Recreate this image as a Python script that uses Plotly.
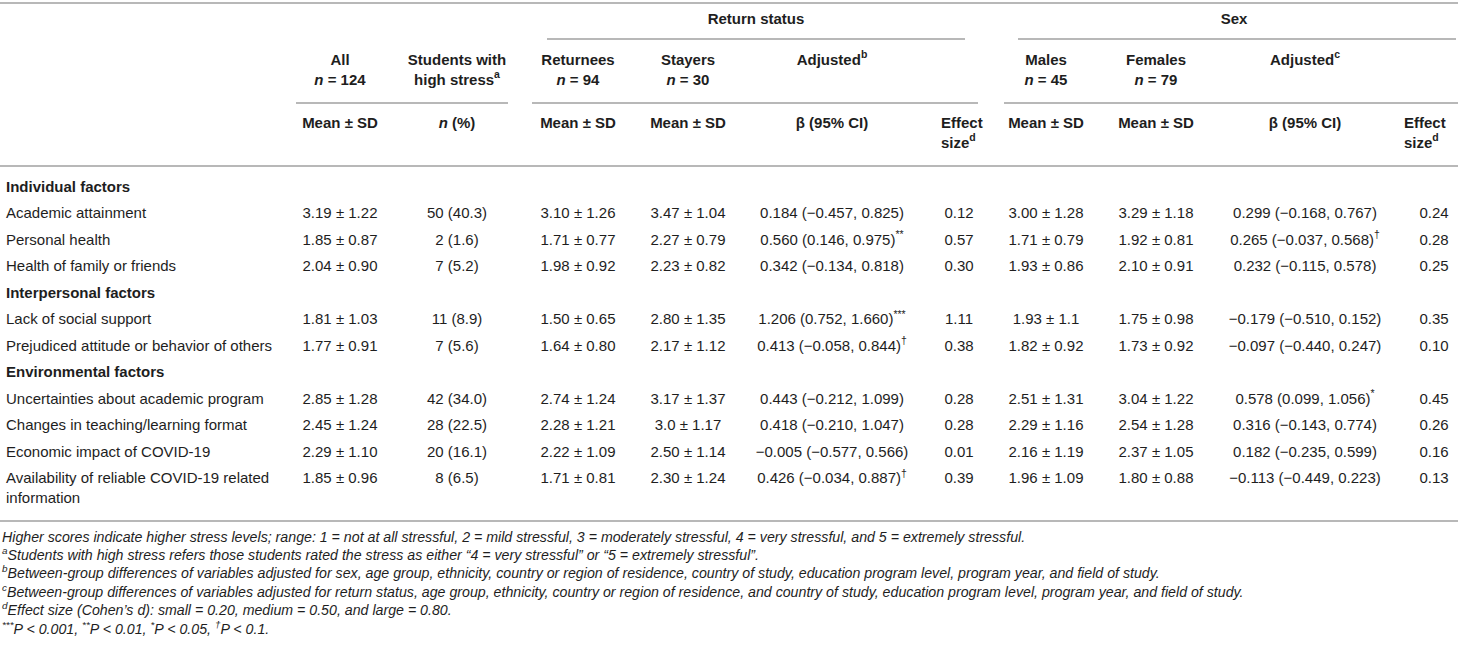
import plotly.graph_objects as go

# table content
groups = ["Individual factors", "Interpersonal factors", "Environmental factors"]
group_sizes = [3, 2, 4]
factors = [
    "Academic attainment",
    "Personal health",
    "Health of family or friends",
    "Lack of social support",
    "Prejudiced attitude or behavior of others",
    "Uncertainties about academic program",
    "Changes in teaching/learning format",
    "Economic impact of COVID-19",
    "Availability of reliable COVID-19 related<br>information",
]
all_mean_sd = ["3.19 ± 1.22", "1.85 ± 0.87", "2.04 ± 0.90", "1.81 ± 1.03", "1.77 ± 0.91",
               "2.85 ± 1.28", "2.45 ± 1.24", "2.29 ± 1.10", "1.85 ± 0.96"]
high_stress = ["50 (40.3)", "2 (1.6)", "7 (5.2)", "11 (8.9)", "7 (5.6)",
               "42 (34.0)", "28 (22.5)", "20 (16.1)", "8 (6.5)"]
returnees = ["3.10 ± 1.26", "1.71 ± 0.77", "1.98 ± 0.92", "1.50 ± 0.65", "1.64 ± 0.80",
             "2.74 ± 1.24", "2.28 ± 1.21", "2.22 ± 1.09", "1.71 ± 0.81"]
stayers = ["3.47 ± 1.04", "2.27 ± 0.79", "2.23 ± 0.82", "2.80 ± 1.35", "2.17 ± 1.12",
           "3.17 ± 1.37", "3.0 ± 1.17", "2.50 ± 1.14", "2.30 ± 1.24"]
beta_return = ["0.184 (−0.457, 0.825)", "0.560 (0.146, 0.975)<sup>**</sup>",
               "0.342 (−0.134, 0.818)", "1.206 (0.752, 1.660)<sup>***</sup>",
               "0.413 (−0.058, 0.844)<sup>†</sup>", "0.443 (−0.212, 1.099)",
               "0.418 (−0.210, 1.047)", "−0.005 (−0.577, 0.566)",
               "0.426 (−0.034, 0.887)<sup>†</sup>"]
effect_return = ["0.12", "0.57", "0.30", "1.11", "0.38", "0.28", "0.28", "0.01", "0.39"]
males = ["3.00 ± 1.28", "1.71 ± 0.79", "1.93 ± 0.86", "1.93 ± 1.1", "1.82 ± 0.92",
         "2.51 ± 1.31", "2.29 ± 1.16", "2.16 ± 1.19", "1.96 ± 1.09"]
females = ["3.29 ± 1.18", "1.92 ± 0.81", "2.10 ± 0.91", "1.75 ± 0.98", "1.73 ± 0.92",
           "3.04 ± 1.22", "2.54 ± 1.28", "2.37 ± 1.05", "1.80 ± 0.88"]
beta_sex = ["0.299 (−0.168, 0.767)", "0.265 (−0.037, 0.568)<sup>†</sup>",
            "0.232 (−0.115, 0.578)", "−0.179 (−0.510, 0.152)", "−0.097 (−0.440, 0.247)",
            "0.578 (0.099, 1.056)<sup>*</sup>", "0.316 (−0.143, 0.774)",
            "0.182 (−0.235, 0.599)", "−0.113 (−0.449, 0.223)"]
effect_sex = ["0.24", "0.28", "0.25", "0.35", "0.10", "0.45", "0.26", "0.16", "0.13"]

span_headers = ["Return status", "Sex"]
col_headers = ["All<br><i>n</i> = 124", "Students with<br>high stress<sup>a</sup>",
               "Returnees<br><i>n</i> = 94", "Stayers<br><i>n</i> = 30", "Adjusted<sup>b</sup>",
               "", "Males<br><i>n</i> = 45", "Females<br><i>n</i> = 79", "Adjusted<sup>c</sup>", ""]
stat_headers = ["Mean ± SD", "<i>n</i> (%)", "Mean ± SD", "Mean ± SD", "β (95% CI)",
                "Effect<br>size<sup>d</sup>", "Mean ± SD", "Mean ± SD", "β (95% CI)",
                "Effect<br>size<sup>d</sup>"]

footnotes = [
    "Higher scores indicate higher stress levels; range: 1 = not at all stressful, 2 = mild stressful, "
    "3 = moderately stressful, 4 = very stressful, and 5 = extremely stressful.",
    "<sup>a</sup>Students with high stress refers those students rated the stress as either "
    "“4 = very stressful” or “5 = extremely stressful”.",
    "<sup>b</sup>Between-group differences of variables adjusted for sex, age group, ethnicity, country or "
    "region of residence, country of study, education program level, program year, and field of study.",
    "<sup>c</sup>Between-group differences of variables adjusted for return status, age group, ethnicity, "
    "country or region of residence, and country of study, education program level, program year, "
    "and field of study.",
    "<sup>d</sup>Effect size (Cohen’s d): small = 0.20, medium = 0.50, and large = 0.80.",
    "<sup>***</sup>P < 0.001, <sup>**</sup>P < 0.01, <sup>*</sup>P < 0.05, <sup>†</sup>P < 0.1.",
]

# layout (pixel coordinates)
W, H = 1458, 648
FONT = "Liberation Sans, Arial, Helvetica, sans-serif"
INK = "#1e1e1e"
RULE = "#b8b8b8"
col_x = [340, 457, 578, 688, 832, 941, 1046, 1156, 1305, 1404]
effect_x = [959, 1434]
span_x = [756, 1234]
row_top, row_step = 188, 26.5

# row positions: group header then its items
group_y, item_y = [], []
pos = 0
for size in group_sizes:
    group_y.append(row_top + row_step * pos)
    pos += 1
    for _ in range(size):
        item_y.append(row_top + row_step * pos)
        pos += 1
label_y = [y + 9.75 * t.count("<br>") for y, t in zip(item_y, factors)]

fig = go.Figure()


def add_text(xs, ys, texts, size=15, bold=False, italic=False, pos="middle center"):
    if bold:
        texts = ["<b>" + t + "</b>" for t in texts]
    fig.add_trace(go.Scatter(
        x=xs, y=ys, text=texts, mode="text", textposition=pos,
        textfont=dict(family=FONT, size=size, color=INK,
                      style="italic" if italic else "normal"),
        hoverinfo="skip", showlegend=False, cliponaxis=False,
    ))


# headers
add_text(span_x, [20, 20], span_headers, bold=True)
for i, h in enumerate(col_headers):
    if not h:
        continue
    y = 71 if "<br>" in h else 61
    add_text([col_x[i]], [y], [h], bold=True)
for i, h in enumerate(stat_headers):
    if "<br>" in h:
        add_text([col_x[i]], [134], [h], bold=True, pos="middle right")
    else:
        add_text([col_x[i]], [124], [h], bold=True)

# body
add_text([6] * len(groups), group_y, groups, bold=True, pos="middle right")
add_text([6] * len(factors), label_y, factors, pos="middle right")
columns = [all_mean_sd, high_stress, returnees, stayers, beta_return, None,
           males, females, beta_sex, None]
for cx, vals in zip(col_x, columns):
    if vals is None:
        continue
    add_text([cx] * len(vals), item_y, vals)
for ex, vals in zip(effect_x, [effect_return, effect_sex]):
    add_text([ex] * len(vals), item_y, vals)

# footnotes
foot_y = [538 + 18.4 * i for i in range(len(footnotes))]
add_text([2] * len(footnotes), foot_y, footnotes, size=14.2, italic=True, pos="middle right")

# rules
rules = [
    (0, W, 3), (547, 965, 39), (1018, 1456, 39),
    (296, 508, 103), (532, 978, 103), (1004, W, 103),
    (0, W, 166), (0, W, 521),
]
for x0, x1, y in rules:
    fig.add_shape(type="line", x0=x0, x1=x1, y0=y, y1=y,
                  line=dict(color=RULE, width=2), layer="below")

fig.update_layout(
    width=W, height=H,
    margin=dict(l=0, r=0, t=0, b=0),
    paper_bgcolor="white", plot_bgcolor="white",
    xaxis=dict(range=[0, W], visible=False, fixedrange=True),
    yaxis=dict(range=[H, 0], visible=False, fixedrange=True),
)

# page body has a default margin; drop it so the table sits at the window edge
fig.write_html("out.html", config={"displayModeBar": False},
               post_script="document.body.style.margin='0';document.body.style.overflow='hidden';")
